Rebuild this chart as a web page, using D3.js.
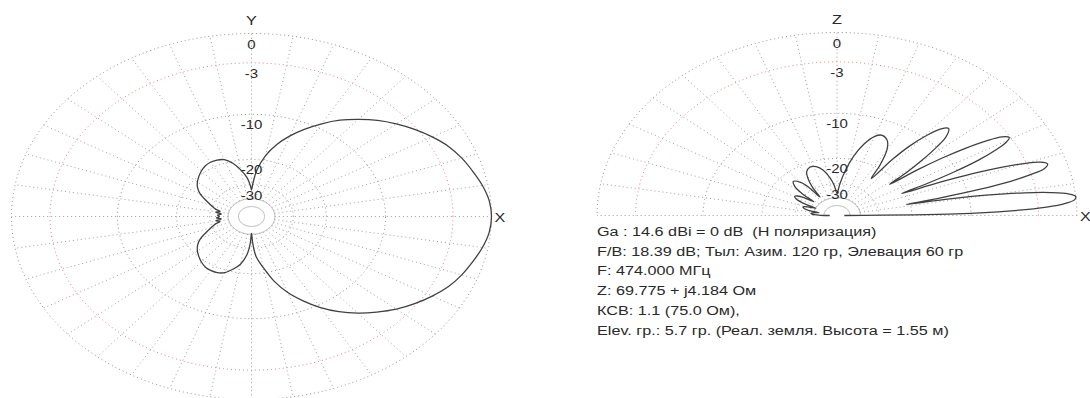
<!DOCTYPE html>
<html>
<head>
<meta charset="utf-8">
<script src="https://cdn.jsdelivr.net/npm/d3@7"></script>
<style>
  html, body { margin: 0; padding: 0; background: #ffffff; }
  svg { display: block; }
  text { white-space: pre; }
</style>
</head>
<body>
<svg id="chart" width="1090" height="398"></svg>
<script>
// Grid levels in dB (ARRL log scale) and their labels
const gridLevels = [0, -3, -10, -20, -30];
const gridLabels = ["0", "-3", "-10", "-20", "-30"];
const innerRingLevels = [-40, -50];
const spokeAngles = d3.range(0, 360, 10);

// Horizontal (azimuth) pattern, degrees from X toward Y, dB
const azimuthAngles = [
  0, 5, 10, 15, 20, 25, 30, 35, 40, 45, 50, 55, 60, 65, 70, 75, 80, 85, 88, 90,
  92, 95, 100, 105, 110, 115, 120, 125, 130, 135, 140, 145, 150, 155, 160, 165,
  168, 171, 174, 177, 180, 183, 186, 189, 192, 195, 200, 205, 210, 215, 220, 225,
  230, 235, 240, 245, 250, 255, 260, 265, 268, 270, 272, 275, 280, 285, 290, 295,
  300, 305, 310, 315, 320, 325, 330, 335, 340, 345, 350, 355
];
const azimuthGain = [
  0, -0.1, -0.4, -0.8, -1.2, -1.7, -2.4, -3.2, -4.1, -5.1, -6.3, -7.6, -9.2, -11.0, -13.0, -15.4, -18.6, -23.5, -29, -33,
  -30, -26.5, -23.2, -20.6, -19.0, -18.5, -18.4, -18.7, -19.3, -20.1, -21.0, -22.2, -24.0, -26.8, -29.5, -32.0,
  -34.5, -32.5, -35.5, -33.5, -34.5, -33, -35.5, -32.5, -34.5, -32, -29.5, -26.8, -24.0, -22.2, -21.0, -20.1,
  -19.3, -18.7, -18.5, -18.6, -19.2, -20.8, -22.8, -27, -33, -41, -33, -26, -21.6, -17.2, -14.0, -11.6,
  -9.5, -7.8, -6.4, -5.2, -4.1, -3.2, -2.4, -1.7, -1.2, -0.8, -0.4, -0.1
];

// Vertical (elevation) pattern, degrees above the horizon toward Z, dB
const elevationAngles = [
  0, 1, 2, 3, 4, 5, 6, 7, 8, 9, 10, 11, 11.8,
  12.6, 13.5, 14.5, 15.5, 16.5, 17.8, 19, 20, 21, 22, 23, 24.1,
  25, 26, 27.2, 28.5, 29.6, 30.7, 32, 33.2, 34.5, 35.6, 36.7, 37.8,
  39, 40.5, 42, 43.5, 45.6, 47.5, 49.5, 51.5, 53, 54.7,
  57, 60, 63, 66.7, 70, 74, 78, 82, 86, 90,
  94, 98, 103, 108, 113.3, 118, 121, 123.5, 125.3,
  127.5, 130, 134.4, 138, 140.5, 142.2,
  144.5, 147, 149.3, 152, 154.3, 155.9,
  158.5, 160.5, 162.2, 164.5, 166.5, 168.2,
  171, 174, 177, 179, 180
];
const elevationGain = [
  -60, -12, -5.5, -2.3, -0.8, -0.1, 0, -0.5, -1.8, -4.0, -7.5, -13, -21,
  -14, -8.5, -5, -3, -1.8, -1.4, -1.9, -3.2, -5.2, -8.5, -13.5, -21,
  -15, -10.5, -7, -4.8, -3.6, -3.1, -3.6, -5, -7.5, -10.5, -15, -22,
  -17, -13, -10, -8, -7, -7.6, -9.5, -12.5, -16.5, -24,
  -19, -15, -13.3, -12.7, -13.3, -15.5, -19, -24, -30, -36,
  -31, -27, -23.5, -21.8, -21.4, -22.5, -25, -29, -36,
  -28, -24.8, -23.1, -24.8, -28.5, -36,
  -31, -28, -27.2, -28.3, -31.5, -40,
  -35.5, -33.2, -32.7, -33.5, -36, -44,
  -40, -38, -40.5, -46, -60
];

const infoLines = [
  "Ga : 14.6 dBi = 0 dB  (H поляризация)",
  "F/B: 18.39 dB; Тыл: Азим. 120 гр, Элевация 60 гр",
  "F: 474.000 МГц",
  "Z: 69.775 + j4.184 Ом",
  "КСВ: 1.1 (75.0 Ом),",
  "Elev. гр.: 5.7 гр. (Реал. земля. Высота = 1.55 м)"
];

// ARRL log scale: 0.89 per 2 dB
const arrl = d3.scaleLinear().domain([0, 1]).range([0, 1]);
const radiusOf = db => arrl(Math.pow(0.89, -db / 2));

const svg = d3.select("#chart");
const FONT = "'Liberation Sans', Arial, sans-serif";
const STRETCH = 1.2;

function stretchedText(g, x, y, txt, size, anchor) {
  const t = g.append("g").attr("transform", `translate(${x},${y}) scale(${STRETCH},1)`);
  t.append("text")
    .attr("x", 0).attr("y", 0)
    .attr("text-anchor", anchor || "middle")
    .attr("font-family", FONT)
    .attr("font-size", size)
    .attr("fill", "#2a2a2a")
    .text(txt);
  return t;
}

function drawPlot(opts) {
  const { cx, cy, rx, ry, half, axisName, angles, gains } = opts;
  const xs = d3.scaleLinear().domain([-1, 1]).range([cx - rx, cx + rx]);
  const ys = d3.scaleLinear().domain([-1, 1]).range([cy + ry, cy - ry]);
  const pt = (deg, r) => {
    const a = deg * Math.PI / 180;
    return [xs(r * Math.cos(a)), ys(r * Math.sin(a))];
  };
  const g = svg.append("g");
  const sweep = half ? d3.range(0, 180.5, 1) : d3.range(0, 360, 1);
  const ring = d3.line().curve(half ? d3.curveLinear : d3.curveLinearClosed);

  // radial spokes
  const spokes = half ? spokeAngles.filter(a => a <= 180) : spokeAngles;
  const rIn = radiusOf(innerRingLevels[0]);
  g.selectAll(".spoke").data(spokes).join("line")
    .attr("x1", d => pt(d, rIn)[0]).attr("y1", d => pt(d, rIn)[1])
    .attr("x2", d => pt(d, 1)[0]).attr("y2", d => pt(d, 1)[1])
    .attr("stroke", "#a0a0a0").attr("stroke-width", 1)
    .attr("stroke-dasharray", "1 3");

  // grid ellipses
  g.selectAll(".grid").data(gridLevels).join("path")
    .attr("d", l => ring(sweep.map(a => pt(a, radiusOf(l)))))
    .attr("fill", "none")
    .attr("stroke", l => l === -3 ? "#e88080" : "#929292")
    .attr("stroke-width", 1)
    .attr("stroke-dasharray", "1 3");

  // inner rings
  g.selectAll(".inner").data(innerRingLevels).join("path")
    .attr("d", l => ring(sweep.map(a => pt(a, radiusOf(l)))))
    .attr("fill", "none")
    .attr("stroke", "#b0b0b0")
    .attr("stroke-width", 1);

  // pattern
  const patLine = d3.line()
    .x(d => pt(d[0], radiusOf(d[1]))[0])
    .y(d => pt(d[0], radiusOf(d[1]))[1])
    .curve(half ? d3.curveCatmullRom.alpha(0.5) : d3.curveCatmullRomClosed.alpha(0.5));
  g.append("path")
    .attr("d", patLine(angles.map((a, i) => [a, gains[i]])))
    .attr("fill", "none")
    .attr("stroke", "#404040")
    .attr("stroke-width", 1.3);

  // dB labels on the vertical axis
  gridLevels.forEach((l, i) => {
    const y = ys(radiusOf(l)) + 15;
    stretchedText(g, cx, y, gridLabels[i], 12.5, "middle");
  });
  stretchedText(g, cx, ys(1) - 9, axisName, 13.5, "middle");
  stretchedText(g, xs(1) + 3, cy + 5, "X", 13.5, "start");
}

drawPlot({ cx: 251.5, cy: 216.5, rx: 240, ry: 183, half: false, axisName: "Y",
           angles: azimuthAngles, gains: azimuthGain });
drawPlot({ cx: 837, cy: 215.5, rx: 240, ry: 183, half: true, axisName: "Z",
           angles: elevationAngles, gains: elevationGain });

const info = svg.append("g");
infoLines.forEach((line, i) => {
  stretchedText(info, 597, 236 + i * 19.7, line, 13.5, "start");
});
</script>
</body>
</html>
